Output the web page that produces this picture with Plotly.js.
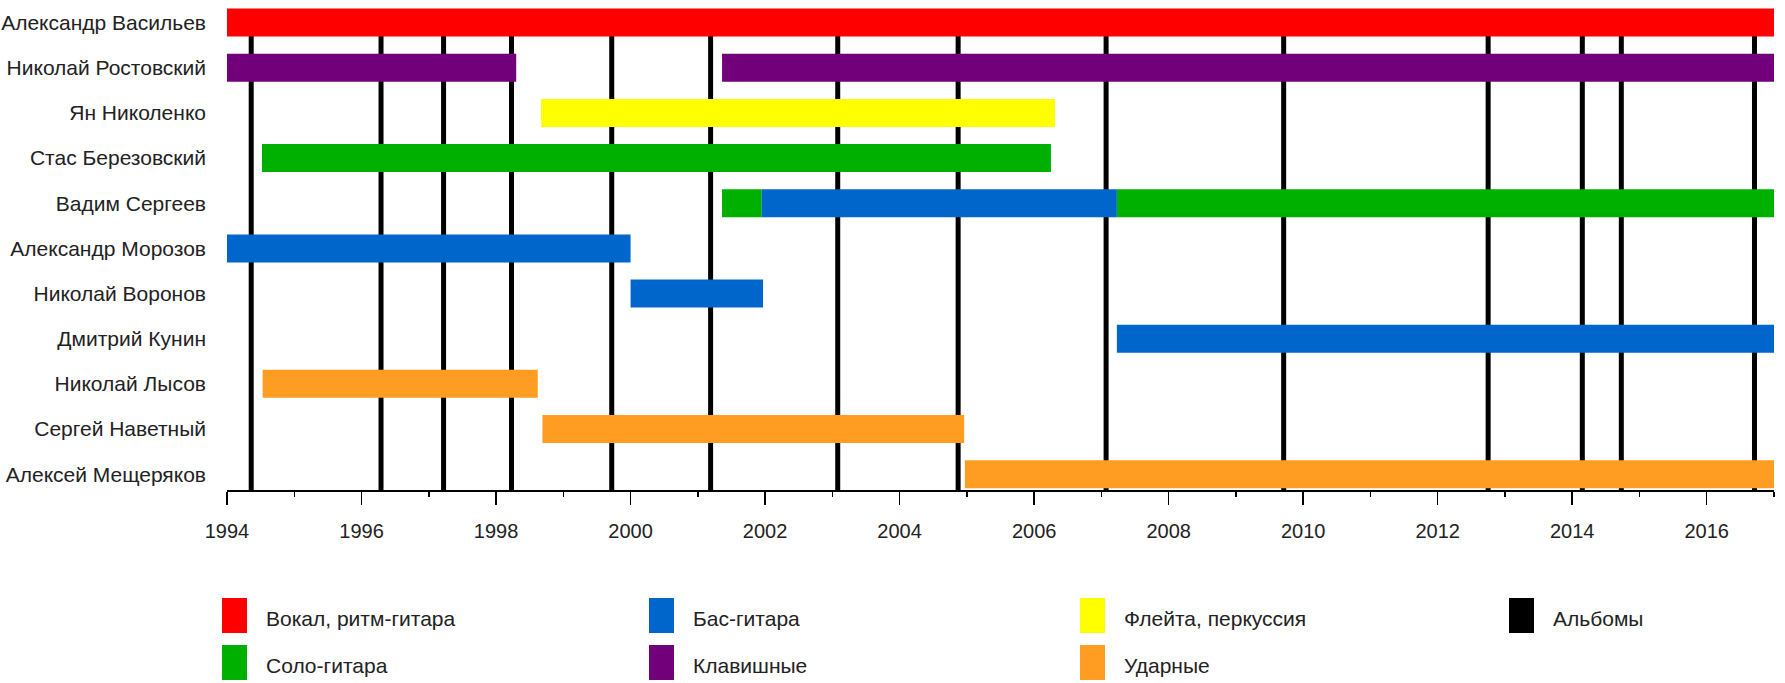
<!DOCTYPE html>
<html>
<head>
<meta charset="utf-8">
<script src="https://cdn.plot.ly/plotly-3.0.1.min.js"></script>
<style>html,body{margin:0;padding:0;background:#fff}#chart{width:1785px;height:683px}</style>
</head>
<body>
<div id="chart"></div>
<script>
// ---- Data ----
const members = ['Александр Васильев','Николай Ростовский','Ян Николенко','Стас Березовский','Вадим Сергеев','Александр Морозов','Николай Воронов','Дмитрий Кунин','Николай Лысов','Сергей Наветный','Алексей Мещеряков'];

const vocalNames = ['Александр Васильев'];
const vocalStart = [1994];
const vocalEnd   = [2017];

const leadNames = ['Стас Березовский','Вадим Сергеев','Вадим Сергеев'];
const leadStart = [1994.52, 2001.36, 2007.23];
const leadEnd   = [2006.25, 2001.95, 2017];

const bassNames = ['Вадим Сергеев','Александр Морозов','Николай Воронов','Дмитрий Кунин'];
const bassStart = [2001.95, 1994, 2000.0, 2007.23];
const bassEnd   = [2007.23, 2000.0, 2001.97, 2017];

const keysNames = ['Николай Ростовский','Николай Ростовский'];
const keysStart = [1994, 2001.36];
const keysEnd   = [1998.30, 2017];

const fluteNames = ['Ян Николенко'];
const fluteStart = [1998.67];
const fluteEnd   = [2006.31];

const drumNames = ['Николай Лысов','Сергей Наветный','Алексей Мещеряков'];
const drumStart = [1994.53, 1998.69, 2004.97];
const drumEnd   = [1998.62, 2004.96, 2017];

const albumYears = [1994.36, 1996.29, 1997.22, 1998.23, 1999.72, 2001.19, 2003.08, 2004.87, 2007.07, 2009.71, 2012.75, 2014.15, 2014.73, 2016.71];

const legendLabels = ['Вокал, ритм-гитара','Соло-гитара','Бас-гитара','Клавишные','Флейта, перкуссия','Ударные','Альбомы'];
const legendColors = ['#ff0000','#00b000','#0066cc','#72007a','#ffff00','#ff9c22','#000000'];

// ---- Styling / layout constants ----
const FONT = '"Liberation Sans", Arial, sans-serif';
const W = 1785, H = 683;
const M = {l: 227, r: 11, t: 0, b: 193};
const PW = W - M.l - M.r, PH = H - M.t - M.b;
const px2x = X => (X - M.l) / PW;
const px2y = Y => (M.t + PH - Y) / PH;

function barTrace(names, starts, ends, color, name) {
  return {
    type: 'bar', orientation: 'h', name: name,
    y: names, base: starts, x: ends.map((e, i) => e - starts[i]),
    width: 0.62, marker: {color: color, line: {width: 0}},
    hoverinfo: 'skip', showlegend: false
  };
}

const traces = [
  barTrace(vocalNames, vocalStart, vocalEnd, legendColors[0], legendLabels[0]),
  barTrace(leadNames, leadStart, leadEnd, legendColors[1], legendLabels[1]),
  barTrace(bassNames, bassStart, bassEnd, legendColors[2], legendLabels[2]),
  barTrace(keysNames, keysStart, keysEnd, legendColors[3], legendLabels[3]),
  barTrace(fluteNames, fluteStart, fluteEnd, legendColors[4], legendLabels[4]),
  barTrace(drumNames, drumStart, drumEnd, legendColors[5], legendLabels[5])
];

const yBottom = 10.35;
const shapes = albumYears.map(yr => ({
  type: 'line', xref: 'x', yref: 'y', x0: yr, x1: yr, y0: yBottom, y1: 0,
  line: {color: '#000', width: 5}, layer: 'below'
}));

// custom legend (tall swatches, 4 columns x 2 rows)
const colX = [222, 649, 1080, 1509];
const rowTop = [598, 645];
const annotations = [];
legendLabels.forEach((lab, i) => {
  const c = Math.floor(i / 2), r = i % 2;
  const x0 = colX[c], y0 = rowTop[r];
  shapes.push({type: 'rect', xref: 'paper', yref: 'paper',
    x0: px2x(x0), x1: px2x(x0 + 25), y0: px2y(y0), y1: px2y(y0 + 35),
    fillcolor: legendColors[i], line: {width: 0}});
  annotations.push({xref: 'paper', yref: 'paper', x: px2x(x0 + 42), y: px2y(y0 + 20),
    xanchor: 'left', yanchor: 'middle', showarrow: false, text: lab,
    font: {family: FONT, size: 21, color: '#222'}});
});

const layout = {
  width: W, height: H, margin: M,
  paper_bgcolor: '#fff', plot_bgcolor: '#fff',
  barmode: 'overlay', showlegend: false,
  xaxis: {
    range: [1994, 2017], tick0: 1994, dtick: 2, ticks: 'outside', ticklen: 13, tickwidth: 1.5,
    tickcolor: '#000', showline: true, linecolor: '#000', linewidth: 2, showgrid: false, zeroline: false,
    minor: {dtick: 1, ticks: 'outside', ticklen: 5, tickwidth: 1.5, tickcolor: '#000', showgrid: false},
    tickfont: {family: FONT, size: 20, color: '#222'}, ticklabelstandoff: 9
  },
  yaxis: {
    type: 'category', categoryorder: 'array', categoryarray: members,
    range: [yBottom, -0.5], showgrid: false, zeroline: false, showline: false, ticks: '',
    tickfont: {family: FONT, size: 21, color: '#222'}, ticklabelstandoff: 20
  },
  shapes: shapes, annotations: annotations
};

Plotly.newPlot('chart', traces, layout, {displayModeBar: false, staticPlot: true});
</script>
</body>
</html>
